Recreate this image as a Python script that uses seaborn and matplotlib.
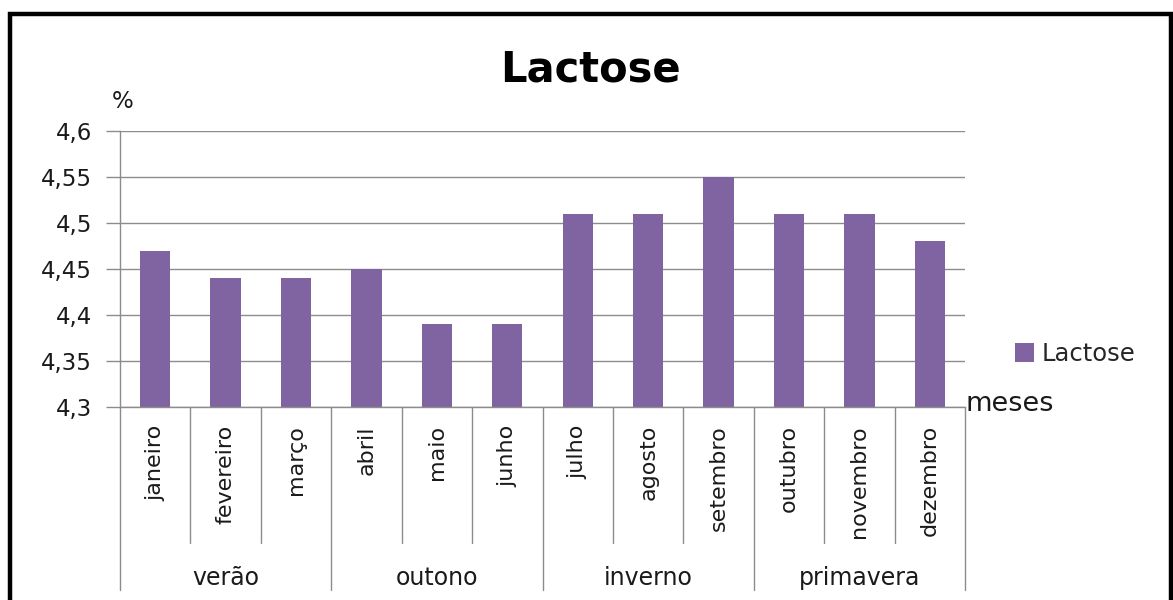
import matplotlib
matplotlib.use("Agg")
import matplotlib.pyplot as plt
import seaborn as sns
import pandas as pd
from matplotlib.patches import Rectangle
from matplotlib.ticker import FuncFormatter, MultipleLocator

# Monthly lactose content (%) grouped by season
meses = ["janeiro", "fevereiro", "março", "abril", "maio", "junho",
         "julho", "agosto", "setembro", "outubro", "novembro", "dezembro"]
estacoes = ["verão", "outono", "inverno", "primavera"]
lactose = [4.47, 4.44, 4.44, 4.45, 4.39, 4.39, 4.51, 4.51, 4.55, 4.51, 4.51, 4.48]

BAR = "#8064A2"
GRID = "#8c8c8c"
TXT = "#1a1a1a"

sns.set_style("white")
plt.rcParams["font.family"] = ["DejaVu Sans"]

W, H = 1173, 600
fig = plt.figure(figsize=(W / 100, H / 100), dpi=100)
fig.patch.set_facecolor("white")

ax = fig.add_axes([120 / W, 1 - 407 / H, 845 / W, 276 / H])
df = pd.DataFrame({"mes": meses, "lactose": lactose})
sns.barplot(data=df, x="mes", y="lactose", color=BAR, saturation=1,
            width=0.43, ax=ax, label="Lactose", linewidth=0)

ax.set_ylim(4.3, 4.6)
ax.set_xlim(-0.5, len(meses) - 0.5)
ax.yaxis.set_major_locator(MultipleLocator(0.05))
ax.yaxis.set_major_formatter(FuncFormatter(lambda v, p: f"{v:.2f}".rstrip("0").rstrip(".").replace(".", ",")))
ax.set_axisbelow(True)
ax.yaxis.grid(True, color=GRID, lw=1)
ax.xaxis.grid(False)
ax.set_xlabel("")
ax.set_ylabel("")

for s in ["top", "right"]:
    ax.spines[s].set_visible(False)
for s in ["left", "bottom"]:
    ax.spines[s].set_color(GRID)
    ax.spines[s].set_linewidth(1)

ax.tick_params(axis="y", which="major", left=True, length=10, width=1, color=GRID,
               labelsize=16.5, labelcolor=TXT, pad=10)
ax.set_xticks(range(len(meses)))
ax.set_xticklabels(meses, rotation=90, fontsize=16, color=TXT)
ax.tick_params(axis="x", length=0, pad=13)

# category axis separators: months (short) and seasons (long)
trans = ax.get_xaxis_transform()
for i in range(len(meses) + 1):
    x = i - 0.5
    y_end = -0.663 if i % 3 == 0 else -0.493
    ax.plot([x, x], [0, y_end], transform=trans, clip_on=False, color=GRID, lw=1)

for k, nome in enumerate(estacoes):
    ax.text(3 * k + 1, -0.62, nome, transform=trans, ha="center", va="center",
            fontsize=17, color=TXT)

ax.legend(loc="center left", bbox_to_anchor=(1015 / W, 1 - 354 / H),
          bbox_transform=fig.transFigure, frameon=False, fontsize=17.5,
          handlelength=0.8, handleheight=0.8, handletextpad=0.3,
          borderaxespad=0, borderpad=0)

fig.text(590 / W, 1 - 69 / H, "Lactose", ha="center", va="center",
         fontsize=30, fontweight="bold", color="black")
fig.text(112 / W, 1 - 102 / H, "%", ha="left", va="center", fontsize=16.5, color=TXT)
fig.text(966 / W, 1 - 404 / H, "meses", ha="left", va="center", fontsize=19.5, color=TXT)

# outer frame
fig.patches.append(Rectangle((9.5 / W, -0.05), (1171 - 9.5) / W, 1.05 - 14 / H,
                             transform=fig.transFigure, fill=False,
                             edgecolor="black", lw=3.2))

fig.savefig("out.png", dpi=100, facecolor="white")
